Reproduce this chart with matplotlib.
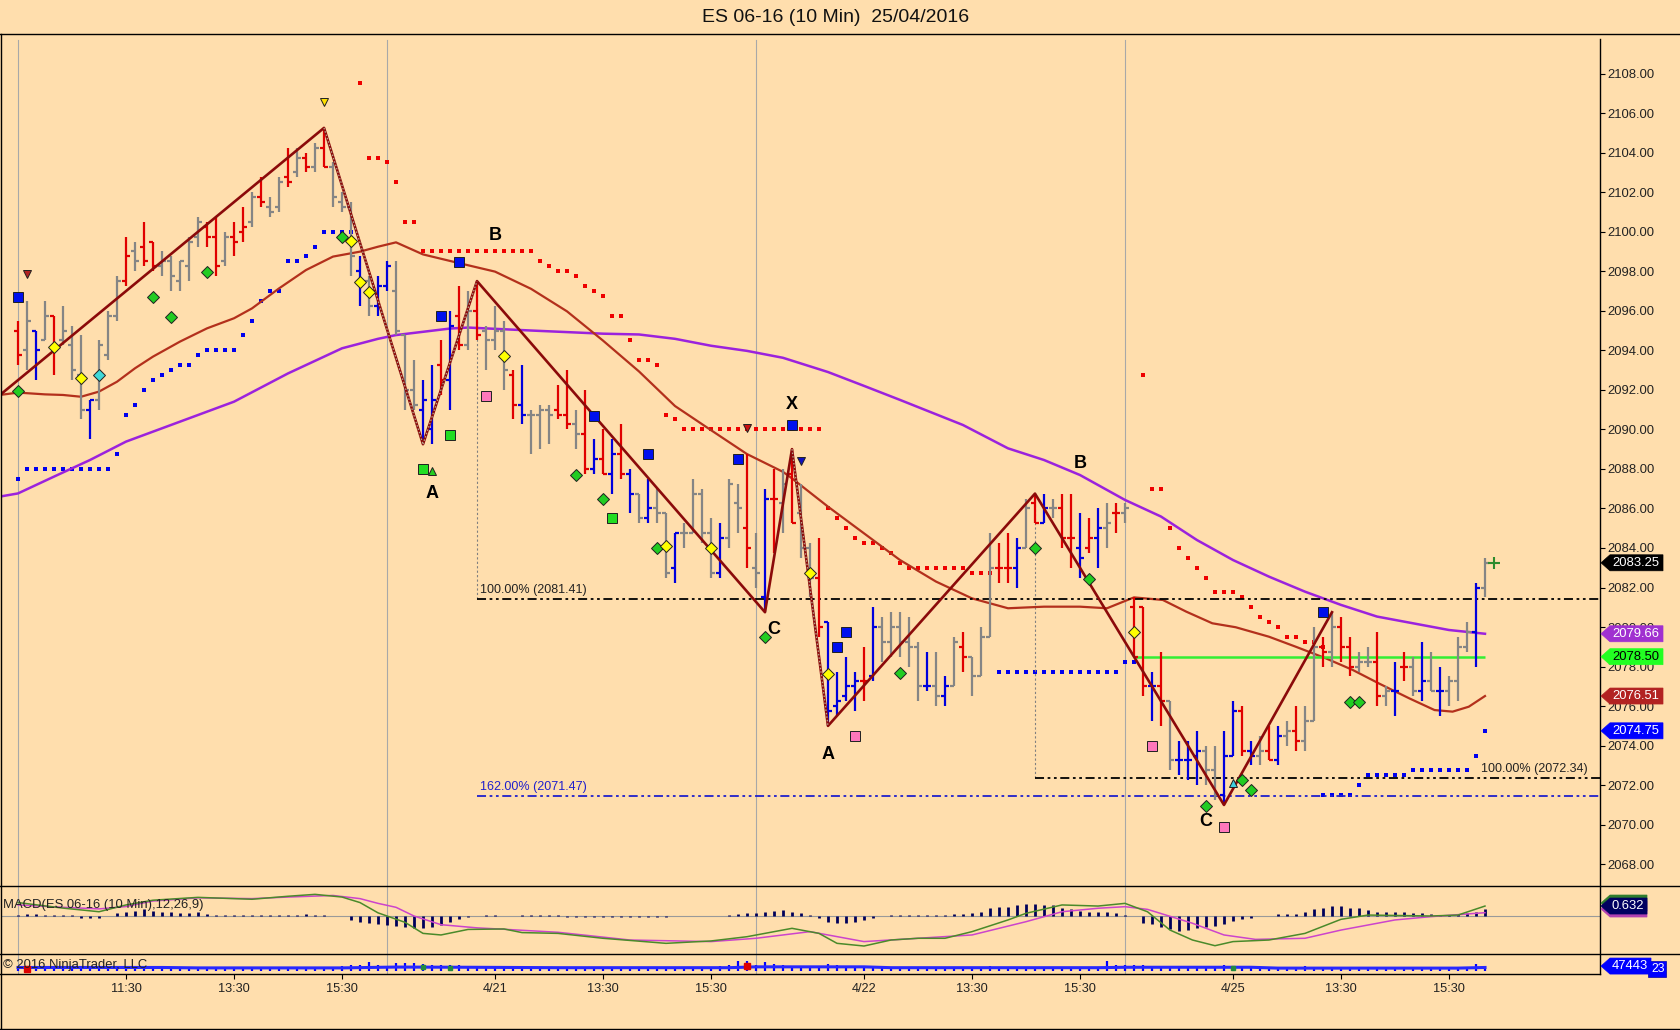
import matplotlib
matplotlib.use('Agg')
import matplotlib.pyplot as plt
from matplotlib.lines import Line2D
from matplotlib.patches import Polygon
import numpy as np

plt.rcParams['font.family'] = ['Liberation Sans', 'DejaVu Sans']

W, H = 1680, 1030
BG = '#FFDEAD'

# ---- price bars (10 min, 4 sessions of 41 bars) ----
opens = [2095.0, 2094.0, 2095.0, 2094.5, 2095.75, 2094.5, 2094.25, 2092.75, 2091.0, 2091.5,
         2093.75, 2095.75, 2097.5, 2099.0, 2099.25, 2099.5, 2098.25, 2098.5, 2097.5, 2098.25,
         2099.75, 2100.25, 2099.75, 2098.5, 2099.75, 2100.0, 2100.5, 2101.75, 2101.25, 2101.25,
         2102.75, 2103.0, 2103.75, 2103.25, 2104.25, 2103.25, 2101.5, 2101.25, 2098.0, 2097.5,
         2096.25, 2097.25, 2097.0, 2094.75, 2092.0, 2091.0, 2090.0, 2093.25, 2092.5, 2095.75,
         2094.25, 2096.0, 2095.0, 2094.5, 2095.0, 2092.75, 2091.25, 2090.75, 2090.75, 2091.0,
         2091.0, 2090.75, 2090.25, 2089.75, 2088.0, 2088.5, 2087.75, 2088.75, 2087.75, 2086.75,
         2085.5, 2086.0, 2085.75, 2083.0, 2084.75, 2084.75, 2086.75, 2084.75, 2082.75, 2084.5,
         2086.25, 2085.0, 2083.0, 2081.5, 2086.5, 2086.25, 2087.75, 2085.75, 2084.0, 2082.5,
         2080.25, 2076.0, 2076.5, 2077.0, 2077.25, 2077.5, 2080.0, 2079.25, 2080.0, 2079.25,
         2079.0, 2077.0, 2077.0, 2076.5, 2077.0, 2079.0, 2078.5, 2077.5, 2079.5, 2083.0,
         2083.0, 2083.0, 2084.0, 2086.25, 2085.25, 2086.0, 2086.0, 2084.5, 2084.0, 2084.0,
         2084.5, 2085.0, 2085.75, 2085.75, 2081.0, 2081.0, 2077.0, 2077.0, 2076.25, 2073.25,
         2073.25, 2073.5, 2073.75, 2072.75, 2071.5, 2073.5, 2075.75, 2073.75, 2073.5, 2073.75,
         2073.25, 2074.5, 2074.75, 2074.25, 2075.25, 2079.0, 2078.75, 2080.0, 2079.0, 2078.0,
         2078.25, 2078.25, 2076.5, 2076.75, 2078.0, 2078.0, 2076.75, 2077.25, 2076.75, 2076.75,
         2077.25, 2079.0, 2079.75, 2082.0]
highs = [2095.5, 2096.5, 2095.0, 2096.5, 2095.75, 2096.25, 2095.25, 2094.75, 2091.5, 2094.5,
         2096.0, 2097.75, 2099.75, 2099.5, 2100.5, 2099.5, 2099.0, 2098.75, 2098.5, 2099.75,
         2100.75, 2100.5, 2100.75, 2100.0, 2100.5, 2101.25, 2102.0, 2102.75, 2101.75, 2102.75,
         2104.25, 2104.25, 2104.0, 2104.5, 2105.25, 2103.5, 2102.0, 2101.5, 2098.75, 2097.75,
         2097.75, 2098.5, 2098.5, 2094.75, 2093.5, 2092.5, 2093.25, 2094.5, 2096.0, 2097.25,
         2097.0, 2097.5, 2095.25, 2096.25, 2095.5, 2093.0, 2093.25, 2091.0, 2091.25, 2091.25,
         2092.25, 2093.0, 2091.0, 2092.0, 2089.5, 2090.0, 2089.5, 2090.25, 2088.0, 2086.75,
         2087.5, 2087.0, 2085.75, 2084.75, 2085.25, 2087.5, 2087.0, 2085.5, 2085.25, 2087.5,
         2087.25, 2088.75, 2084.75, 2087.0, 2088.0, 2088.0, 2089.0, 2087.25, 2084.25, 2084.5,
         2080.25, 2077.75, 2078.5, 2077.75, 2079.0, 2081.0, 2080.5, 2080.75, 2080.75, 2080.5,
         2079.25, 2078.75, 2078.75, 2077.5, 2079.5, 2079.75, 2078.5, 2080.0, 2084.75, 2084.25,
         2084.75, 2084.5, 2086.5, 2086.75, 2086.75, 2086.5, 2086.75, 2086.75, 2085.75, 2085.5,
         2086.0, 2086.25, 2086.25, 2086.25, 2081.5, 2081.0, 2077.75, 2078.75, 2076.25, 2074.25,
         2074.25, 2074.75, 2074.0, 2074.0, 2074.75, 2076.25, 2076.0, 2074.25, 2074.5, 2075.0,
         2075.0, 2075.25, 2076.0, 2076.0, 2080.0, 2079.5, 2080.75, 2080.5, 2079.5, 2078.75,
         2079.0, 2079.75, 2077.0, 2078.25, 2078.75, 2078.5, 2079.25, 2078.75, 2078.0, 2077.5,
         2079.5, 2080.25, 2082.25, 2083.5]
lows = [2093.25, 2093.0, 2092.5, 2094.5, 2092.75, 2094.25, 2092.5, 2090.5, 2089.5, 2091.0,
        2093.5, 2095.5, 2097.25, 2098.0, 2098.25, 2098.0, 2097.75, 2097.0, 2097.0, 2097.5,
        2099.25, 2099.25, 2097.75, 2098.25, 2098.75, 2099.5, 2100.25, 2101.25, 2100.75, 2101.0,
        2102.25, 2102.75, 2103.0, 2103.0, 2103.25, 2101.25, 2101.0, 2097.75, 2096.25, 2095.75,
        2095.75, 2097.0, 2094.75, 2091.0, 2091.0, 2089.25, 2089.25, 2091.75, 2091.0, 2094.0,
        2094.0, 2094.5, 2093.0, 2094.0, 2092.0, 2090.5, 2090.25, 2088.75, 2089.0, 2089.25,
        2090.5, 2090.0, 2089.0, 2087.75, 2087.75, 2087.75, 2086.75, 2087.5, 2085.75, 2085.25,
        2085.25, 2085.25, 2082.5, 2082.25, 2084.0, 2084.75, 2084.25, 2082.5, 2082.5, 2084.0,
        2084.75, 2083.0, 2082.0, 2080.75, 2083.75, 2084.75, 2085.25, 2083.5, 2081.5, 2079.5,
        2075.0, 2075.5, 2076.25, 2075.75, 2076.25, 2077.25, 2078.25, 2078.5, 2078.5, 2078.0,
        2076.25, 2076.75, 2076.0, 2076.0, 2077.0, 2077.75, 2076.5, 2077.5, 2079.5, 2082.25,
        2082.25, 2082.0, 2084.0, 2085.25, 2085.25, 2085.5, 2084.0, 2083.0, 2082.5, 2083.75,
        2083.0, 2084.0, 2084.75, 2085.25, 2078.5, 2076.5, 2075.25, 2075.0, 2072.75, 2072.5,
        2072.25, 2072.0, 2072.0, 2071.25, 2071.0, 2073.5, 2073.5, 2073.0, 2073.0, 2073.25,
        2073.0, 2074.0, 2073.75, 2073.75, 2075.25, 2078.0, 2078.0, 2078.25, 2077.5, 2077.75,
        2078.0, 2076.0, 2076.0, 2075.5, 2077.25, 2076.5, 2076.25, 2076.75, 2075.5, 2076.0,
        2076.25, 2078.75, 2078.0, 2081.5]
closes = [2093.75, 2095.5, 2094.0, 2095.75, 2094.0, 2095.0, 2093.0, 2091.0, 2091.5, 2094.25,
          2095.75, 2097.5, 2098.75, 2098.5, 2098.5, 2098.25, 2098.5, 2097.75, 2098.5, 2099.5,
          2100.5, 2099.75, 2098.25, 2099.75, 2099.5, 2100.25, 2101.75, 2101.5, 2101.0, 2102.5,
          2102.5, 2103.75, 2103.25, 2104.25, 2103.25, 2101.75, 2101.25, 2098.75, 2097.5, 2096.25,
          2097.25, 2098.25, 2095.0, 2092.0, 2091.25, 2091.5, 2091.5, 2092.5, 2095.25, 2094.25,
          2096.0, 2094.75, 2094.5, 2095.0, 2093.0, 2091.25, 2090.75, 2090.75, 2091.0, 2090.75,
          2090.75, 2090.25, 2089.75, 2088.0, 2088.5, 2087.75, 2088.75, 2087.75, 2086.75, 2085.5,
          2086.0, 2085.75, 2082.75, 2084.75, 2084.75, 2086.75, 2084.75, 2082.75, 2084.5, 2087.25,
          2086.0, 2084.0, 2082.75, 2086.5, 2086.5, 2087.25, 2085.25, 2084.0, 2082.5, 2080.0,
          2075.75, 2076.25, 2077.0, 2077.25, 2077.25, 2080.0, 2079.25, 2080.0, 2079.25, 2079.0,
          2077.0, 2077.0, 2076.5, 2077.0, 2079.25, 2078.5, 2077.5, 2079.5, 2083.0, 2083.0,
          2083.0, 2084.0, 2086.0, 2085.25, 2086.0, 2086.0, 2084.5, 2084.5, 2083.5, 2084.5,
          2085.0, 2085.25, 2085.75, 2086.0, 2078.5, 2077.0, 2077.0, 2076.25, 2073.25, 2073.25,
          2073.25, 2073.75, 2072.75, 2071.5, 2073.5, 2075.75, 2073.75, 2073.5, 2073.75, 2073.25,
          2074.5, 2074.75, 2074.25, 2075.25, 2079.0, 2078.75, 2080.0, 2079.0, 2078.0, 2078.25,
          2078.25, 2076.5, 2076.75, 2076.75, 2078.0, 2076.75, 2077.25, 2076.75, 2076.75, 2077.25,
          2079.0, 2079.75, 2082.0, 2083.25]
# r = red bar, b = blue bar, g = gray bar
bar_kind = ("rgbgrgggbg" "ggrgrrgggg" "grrgrrgrgg" "rgrgrgggbg" "bbgggbbrbr"
            "grgggrbggg" "rrgrbrbrbg" "bggbggggbg" "grgbrgrggr" "bbbbrbgggg"
            "gbgbgrgggr" "rbgrbgrrbr" "bgrgrrbrgb" "bbggbbrbgr" "bgrggrgrrg"
            "grgbrgbgbg" "ggbg")

session_starts = [0, 41, 82, 123]
time_tick_bars = [12, 24, 36, 53, 65, 77, 94, 106, 118, 135, 147, 159]
time_tick_labels = ['11:30', '13:30', '15:30', '4/21', '13:30', '15:30',
                    '4/22', '13:30', '15:30', '4/25', '13:30', '15:30']

# ---- moving averages (read at sample bars) ----
ema_x = [-2, 0, 3, 5, 7, 9, 11, 13, 15, 18, 21, 24, 26, 29, 32, 35, 38, 40, 42, 45,
         49, 53, 57, 61, 65, 69, 73, 77, 81, 85, 86, 90, 94, 98, 102, 106, 110, 114, 118, 121,
         124, 127.2, 129.8, 132.7, 135.3, 139, 142, 145.3, 148.3, 151.2, 154.6, 157.4, 159.4, 161.2, 163]
ema_y = [2091.74, 2091.86, 2091.77, 2091.74, 2091.65, 2091.91, 2092.41, 2093.09, 2093.68, 2094.44,
         2095.11, 2095.62, 2096.12, 2097.13, 2098.06, 2098.74, 2098.99, 2099.24, 2099.46, 2098.85,
         2098.41, 2097.98, 2097.11, 2095.97, 2094.49, 2092.93, 2091.18, 2089.96, 2088.75, 2087.85,
         2087.52, 2086.09, 2084.74, 2083.39, 2082.30, 2081.45, 2080.95, 2081.03, 2081.03, 2080.95,
         2081.5, 2081.37, 2080.78, 2080.19, 2079.99, 2079.51, 2079.0, 2078.42, 2077.83, 2077.15,
         2076.39, 2075.8, 2075.72, 2075.97, 2076.51]
slow_x = [-2, 0, 4, 8, 12, 18, 24, 30, 36, 40, 42, 48, 50, 57, 65, 69, 73, 77, 81, 85,
          90, 94, 98, 105, 110, 114, 118, 123, 127, 131, 135, 139, 143, 147, 151, 155, 159, 163]
slow_y = [2086.6, 2086.76, 2087.61, 2088.45, 2089.38, 2090.39, 2091.40, 2092.83, 2094.10, 2094.58,
          2094.77, 2095.1, 2095.15, 2095.0, 2094.84, 2094.8, 2094.58, 2094.23, 2093.97, 2093.62,
          2092.9, 2092.2, 2091.49, 2090.22, 2089.04, 2088.45, 2087.69, 2086.43, 2085.59, 2084.4,
          2083.39, 2082.55, 2081.79, 2081.12, 2080.53, 2080.19, 2079.85, 2079.66]

# ---- trailing stop dots ----
red_dot_x = [38, 39, 40, 41, 42, 43, 44, 45, 46, 47, 48, 49, 50, 51, 52, 53, 54, 55, 56, 57,
             58, 59, 60, 61, 62, 63, 64, 65, 66, 67, 68, 69, 70, 71, 72, 73,
             74, 75, 76, 77, 78, 79, 80, 81, 82, 83, 84, 85, 86, 87, 88, 89,
             90, 91, 92, 93, 94, 95, 96, 97, 98, 99, 100, 101, 102, 103, 104, 105, 106, 107, 108,
             125, 126, 127, 128, 129, 130, 131, 132, 133, 134, 135, 136, 137, 138, 139, 140,
             141, 142, 143, 144, 145]
red_dot_y = [2107.5, 2103.75, 2103.75, 2103.5, 2102.5, 2100.5, 2100.5,
             2099.0, 2099.0, 2099.0, 2099.0, 2099.0, 2099.0, 2099.0, 2099.0, 2099.0, 2099.0,
             2099.0, 2099.0, 2099.0,
             2098.5, 2098.25, 2098.0, 2098.0, 2097.75, 2097.25, 2097.0, 2096.75, 2095.75, 2095.75,
             2094.5, 2093.5, 2093.5, 2093.25, 2090.75, 2090.5,
             2090.0, 2090.0, 2090.0, 2090.0, 2090.0, 2090.0, 2090.0, 2090.0, 2090.0, 2090.0,
             2090.0, 2090.0, 2090.0, 2090.0, 2090.0, 2090.0,
             2086.0, 2085.5, 2085.0, 2084.5, 2084.25, 2084.25, 2084.0, 2083.75, 2083.25,
             2083.0, 2083.0, 2083.0, 2083.0, 2083.0, 2083.0, 2083.0, 2082.75, 2082.75, 2082.75,
             2092.75, 2087.0, 2087.0, 2085.0, 2084.0, 2083.5, 2083.0, 2082.5, 2081.75, 2081.75,
             2081.75, 2081.5, 2081.0, 2080.5, 2080.25, 2080.0, 2079.5, 2079.5, 2079.25, 2079.25,
             2079.0]
blue_dot_x = [0, 1, 2, 3, 4, 5, 6, 7, 8, 9, 10, 11, 12, 13, 14, 15, 16, 17, 18, 19,
              20, 21, 22, 23, 24, 25, 26, 27, 28, 29, 30, 31, 32, 33, 34, 35, 36, 37,
              109, 110, 111, 112, 113, 114, 115, 116, 117, 118, 119, 120, 121, 122, 123, 124,
              145, 146, 147, 148, 149, 150, 151, 152, 153, 154, 155, 156, 157, 158, 159, 160,
              161, 162, 163]
blue_dot_y = [2087.5, 2088.0, 2088.0, 2088.0, 2088.0, 2088.0, 2088.0, 2088.0, 2088.0, 2088.0,
              2088.0, 2088.75, 2090.75, 2091.25, 2092.0, 2092.5, 2092.75, 2093.0, 2093.25, 2093.25,
              2093.75, 2094.0, 2094.0, 2094.0, 2094.0, 2094.75, 2095.5, 2096.5, 2097.0, 2097.0,
              2098.5, 2098.5, 2098.75, 2099.25, 2100.0, 2100.0, 2100.0, 2100.0,
              2077.75, 2077.75, 2077.75, 2077.75, 2077.75, 2077.75, 2077.75, 2077.75, 2077.75,
              2077.75, 2077.75, 2077.75, 2077.75, 2077.75, 2078.25, 2078.25,
              2071.5, 2071.5, 2071.5, 2071.5, 2072.0, 2072.5, 2072.5, 2072.5, 2072.5, 2072.5,
              2072.75, 2072.75, 2072.75, 2072.75, 2072.75, 2072.75, 2072.75, 2073.5, 2074.75]

# ---- signal markers ----
blue_sq_x = [0, 47, 49, 64, 70, 80, 86, 91, 92, 145]
blue_sq_y = [2096.7, 2095.71, 2098.45, 2090.7, 2088.75, 2088.5, 2090.22, 2078.97, 2079.73, 2080.74]
green_sq_x = [45, 48, 66]
green_sq_y = [2088.0, 2089.7, 2085.5]
pink_sq_x = [52, 93, 126, 134]
pink_sq_y = [2091.7, 2074.49, 2073.97, 2069.87]
green_dia_x = [0, 15, 17, 21, 36, 62, 65, 71, 83, 98, 113, 119, 132, 136, 137, 148, 149]
green_dia_y = [2091.96, 2096.68, 2095.70, 2097.94, 2099.71, 2087.7, 2086.5, 2084.0, 2079.5,
               2077.69, 2083.98, 2082.45, 2070.97, 2072.26, 2071.76, 2076.23, 2076.23]
yellow_dia_x = [4, 7, 37, 38, 39, 54, 72, 77, 88, 90, 124]
yellow_dia_y = [2094.18, 2092.58, 2099.55, 2097.44, 2096.93, 2093.7, 2084.1, 2084.0,
                2082.72, 2077.61, 2079.75]
cyan_dia_x = [9]
cyan_dia_y = [2092.73]
tri_down = [(1, 2097.84, '#B22222'), (81, 2090.09, '#CC1010'), (34, 2106.57, '#FFE000'),
            (87, 2088.4, '#1010C0')]
tri_up = [(46, 2087.87, '#22CC22'), (135, 2072.1, '#40D0E0')]

# ---- pattern (zigzag) and labels ----
zig_x = [-2, 34, 45, 51, 83, 86, 90, 113, 134, 146]
zig_y = [2091.74, 2105.25, 2089.25, 2097.5, 2080.75, 2089.0, 2075.0, 2086.75, 2071.0, 2080.75]
hatched_legs = [1, 2, 5]
pattern_labels = [('A', 46, 2086.75), ('B', 53, 2099.8), ('C', 84, 2079.86), ('X', 86, 2091.28),
                  ('A', 90, 2073.53), ('B', 118, 2088.28), ('C', 132, 2070.16)]
fib1_level, fib1_ext = 2081.41, 2071.47
fib2_level = 2072.34
green_level = 2078.50

# ---- MACD (12,26,9) ----
macd_x = [0, 5, 9, 12, 15, 20, 26, 30, 33, 36, 38, 40, 43, 45, 47, 50, 54, 56, 60, 65,
          72, 77, 81, 86, 89, 91, 94, 97, 100, 103, 106, 110, 112, 116, 120, 123, 125.5, 128,
          130.5, 133, 135, 139, 143, 147, 150, 157, 160, 163]
macd_y = [0.85, 0.5, 0.27, 0.7, 1.0, 1.18, 1.06, 1.25, 1.37, 1.2, 0.85, 0.2, -0.4, -1.1,
          -1.2, -0.85, -0.82, -1.05, -1.1, -1.41, -1.73, -1.58, -1.31, -0.78, -1.1, -1.73, -1.9,
          -1.52, -1.41, -1.41, -0.99, -0.25, 0.17, 0.7, 0.63, 0.8, 0.27, -0.89, -1.52, -1.88,
          -1.62, -1.52, -1.1, -0.21, 0.06, 0.0, 0.06, 0.63]
sig_x = [0, 5, 9, 12, 15, 20, 26, 30, 35, 38, 40, 42, 44, 47, 51, 54, 60, 68, 77, 82,
         88, 94, 100, 106, 112, 116, 120, 123, 125.5, 130.5, 134, 137.5, 143, 147, 153, 157, 163]
sig_y = [0.7, 0.55, 0.45, 0.6, 0.95, 1.15, 1.1, 1.2, 1.3, 1.1, 0.8, 0.55, 0.0, -0.55, -0.75,
         -0.84, -1.03, -1.52, -1.62, -1.41, -0.99, -1.62, -1.41, -1.2, -0.36, 0.27, 0.49, 0.59,
         0.42, -0.46, -1.2, -1.48, -1.41, -0.89, -0.25, -0.04, 0.21]
macd_hist = [0.08, 0.1, 0.1, 0.08, 0.06, 0.05, 0.04, -0.12, -0.15, -0.12,
             0.03, 0.17, 0.27, 0.34, 0.42, 0.34, 0.27, 0.23, 0.17, 0.21,
             0.27, 0.1, 0.08, 0.08, 0.06, 0.06, 0.05, 0.08, 0.08, 0.06,
             0.08, 0.08, 0.1, 0.08, 0.06, 0.03, -0.03, -0.25, -0.36, -0.46,
             -0.53, -0.57, -0.63, -0.72, -0.78, -0.78, -0.67, -0.57, -0.36, -0.21,
             -0.08, 0.0, 0.05, 0.06, 0.03, 0.0, 0.06, 0.04, 0.05, 0.06,
             0.05, -0.05, -0.06, -0.05, -0.06, -0.05, -0.06, -0.05, -0.06, -0.06,
             -0.08, -0.06, -0.05, -0.03, 0.0, 0.0, -0.03, 0.03, 0.0, 0.08,
             0.12, 0.17, 0.17, 0.27, 0.34, 0.38, 0.27, 0.17, 0.05, -0.1,
             -0.36, -0.46, -0.42, -0.36, -0.25, -0.15, 0.03, 0.05, 0.05, 0.06,
             0.05, 0.06, 0.08, 0.08, 0.1, 0.12, 0.17, 0.27, 0.49, 0.59,
             0.59, 0.7, 0.76, 0.76, 0.7, 0.7, 0.53, 0.42, 0.34, 0.27,
             0.23, 0.23, 0.17, 0.06, 0.03, -0.42, -0.53, -0.67, -0.84, -0.93,
             -0.89, -0.78, -0.72, -0.63, -0.51, -0.3, -0.21, -0.15, -0.03, 0.0,
             0.1, 0.1, 0.1, 0.23, 0.42, 0.49, 0.63, 0.63, 0.53, 0.49,
             0.38, 0.27, 0.27, 0.23, 0.23, 0.17, 0.17, 0.1, 0.06, 0.06,
             0.1, 0.17, 0.27, 0.42]

# ---- volume ----
volume = [42000, 45000, 40000, 38000, 40000, 38000, 36000, 40000, 42000, 38000,
          40000, 42000, 44000, 40000, 42000, 38000, 36000, 38000, 36000, 38000,
          36000, 38000, 36000, 35000, 36000, 35000, 38000, 36000, 35000, 36000,
          38000, 36000, 35000, 38000, 40000, 42000, 45000, 55000, 62000, 90000,
          60000, 50000, 80000, 75000, 75000, 70000, 62000, 55000, 62000, 55000,
          50000, 45000, 42000, 40000, 40000, 38000, 40000, 38000, 36000, 38000,
          36000, 38000, 36000, 40000, 38000, 36000, 38000, 36000, 40000, 38000,
          36000, 38000, 42000, 40000, 36000, 38000, 36000, 40000, 45000, 60000,
          95000, 100000, 55000, 90000, 65000, 55000, 50000, 48000, 50000, 52000,
          65000, 55000, 52000, 50000, 48000, 50000, 42000, 40000, 38000, 36000,
          38000, 36000, 35000, 36000, 38000, 36000, 35000, 38000, 45000, 40000,
          38000, 36000, 38000, 36000, 35000, 36000, 38000, 36000, 38000, 40000,
          42000, 95000, 55000, 55000, 60000, 55000, 52000, 50000, 52000, 50000,
          50000, 48000, 50000, 52000, 55000, 52000, 45000, 42000, 40000, 38000,
          36000, 38000, 40000, 45000, 42000, 38000, 36000, 35000, 36000, 35000,
          34000, 35000, 34000, 35000, 36000, 34000, 35000, 34000, 35000, 36000,
          38000, 40000, 70000, 47443]
vol_ma_x = [0, 16, 20, 36, 42, 50, 60, 79, 82, 94, 97, 120, 123, 137, 140, 160, 163]
vol_ma_y = [34000, 34000, 30000, 30000, 38000, 36000, 32000, 32000, 40000, 40000,
            32000, 32000, 36000, 36000, 28000, 28000, 34000]

# ---------------------------------------------------------------
fig = plt.figure(figsize=(W / 100, H / 100), dpi=100, facecolor=BG)


def fx(px):
    return px / W


def fy(py):
    return 1 - py / H


left, right = 1, 1600
ax = fig.add_axes([fx(left), fy(886), fx(right) - fx(left), fy(34) - fy(886)])
ax_macd = fig.add_axes([fx(left), fy(954), fx(right) - fx(left), fy(886) - fy(954)], sharex=ax)
ax_vol = fig.add_axes([fx(left), fy(974), fx(right) - fx(left), fy(954) - fy(974)], sharex=ax)

for a in (ax, ax_macd, ax_vol):
    a.set_facecolor(BG)
    for s in a.spines.values():
        s.set_visible(False)
    top = 0.993 if a is ax else 1.0
    for b in session_starts:
        a.axvline(b, ymax=top, color='#A8A8A8', lw=0.8, zorder=0.5)

ax.set_xlim(-1.89, 175.78)
ax.set_ylim(2066.9, 2110.0)
ax_macd.set_ylim(-2.405, 1.899)
ax_vol.set_ylim(-28000, 162000)

# price axis on the right
ax.yaxis.tick_right()
ticks = np.arange(2068, 2109, 2)
ax.set_yticks(ticks)
ax.set_yticklabels(['%.2f' % t for t in ticks])
ax.tick_params(axis='y', direction='out', length=3.6, width=0.8, pad=1.5,
               labelsize=9.4, labelcolor='#222222')
ax.tick_params(axis='x', bottom=False, labelbottom=False)
ax_macd.tick_params(axis='both', left=False, labelleft=False, bottom=False, labelbottom=False)
ax_vol.tick_params(axis='y', left=False, labelleft=False)
ax_vol.set_xticks(time_tick_bars)
ax_vol.set_xticklabels(time_tick_labels)
ax_vol.tick_params(axis='x', direction='out', length=3.6, width=0.8, pad=3,
                   labelsize=9.2, labelcolor='#222222')

# moving averages and stop dots
ax.plot(slow_x, slow_y, color='#9B22DD', lw=1.8, zorder=2.5)
ax.plot(ema_x, ema_y, color='#B3301C', lw=1.6, zorder=2.5)
ax.plot(red_dot_x, red_dot_y, 's', color='#EE0000', ms=3.0, mew=0, ls='none', zorder=2)
ax.plot(blue_dot_x, blue_dot_y, 's', color='#0000EE', ms=3.0, mew=0, ls='none', zorder=2)

# OHLC bars
bar_colors = {'r': '#E00000', 'b': '#0000DD', 'g': '#858585'}
x = np.arange(len(closes))
cols = [bar_colors[k] for k in bar_kind]
ax.vlines(x, lows, highs, colors=cols, lw=1.6, zorder=3)
ax.hlines(opens, x - 0.4, x, colors=cols, lw=1.6, zorder=3)
ax.hlines(closes, x, x + 0.4, colors=cols, lw=1.6, zorder=3)
ax.plot([len(closes)], [closes[-1]], '+', color='#2E8B2E', ms=8, mew=1.5, zorder=3)

# fib levels
ls_dd = (0, (5, 2, 1.5, 2, 1.5, 2))
ax.hlines(fib1_level, zig_x[3], 176, color='black', lw=1.3, linestyles=[ls_dd], zorder=2.8)
ax.hlines(fib1_ext, zig_x[3], 176, color='#2020CC', lw=1.3, linestyles=[ls_dd], zorder=2.8)
ax.hlines(fib2_level, zig_x[7], 176, color='black', lw=1.3, linestyles=[ls_dd], zorder=2.8)
ax.vlines(zig_x[3], fib1_level, zig_y[3], color='#808080', lw=0.8, linestyles=[(0, (2, 2))])
ax.vlines(zig_x[7], fib2_level, zig_y[7], color='#808080', lw=0.8, linestyles=[(0, (2, 2))])
ax.text(51.3, fib1_level + 0.15, '100.00% (2081.41)', fontsize=9, color='#222222', va='bottom')
ax.text(51.3, fib1_ext + 0.15, '162.00% (2071.47)', fontsize=9, color='#2020CC', va='bottom')
ax.text(174.4, fib2_level + 0.15, '100.00% (2072.34)', fontsize=9, color='#222222',
        va='bottom', ha='right')
ax.hlines(green_level, 124, 163, color='#33EE33', lw=1.8, zorder=2.9)

# zigzag
ax.plot(zig_x, zig_y, color='#8B0A0A', lw=1.9, zorder=3.5)
for i in hatched_legs:
    ax.plot(zig_x[i:i + 2], zig_y[i:i + 2], color='#B8A890', lw=0.9, ls=(0, (1.2, 1.6)), zorder=3.6)
for t, bx, by in pattern_labels:
    ax.text(bx, by, t, fontsize=13, fontweight='bold', ha='center', va='center', color='black', zorder=6)

# markers
mk = dict(ls='none', zorder=4, mec='#202020', mew=0.7)
ax.plot(blue_sq_x, blue_sq_y, 's', color='#0010EE', ms=7.5, **mk)
ax.plot(green_sq_x, green_sq_y, 's', color='#22DD22', ms=7.5, **mk)
ax.plot(pink_sq_x, pink_sq_y, 's', color='#FF77BB', ms=7.5, **mk)
ax.plot(green_dia_x, green_dia_y, 'D', color='#22CC22', ms=5.8, **mk)
ax.plot(yellow_dia_x, yellow_dia_y, 'D', color='#FFFF00', ms=5.8, **mk)
ax.plot(cyan_dia_x, cyan_dia_y, 'D', color='#40D8D8', ms=5.8, **mk)
for tx, ty, c in tri_down:
    ax.plot([tx], [ty], 'v', color=c, ms=6, **mk)
for tx, ty, c in tri_up:
    ax.plot([tx], [ty], '^', color=c, ms=5.5, **mk)

# MACD panel
ax_macd.axhline(0, color='#9A9A9A', lw=0.8, zorder=1)
ax_macd.vlines(x, 0, macd_hist, color='#00005A', lw=2.0, zorder=2)
ax_macd.plot(sig_x, sig_y, color='#CC44CC', lw=1.1, zorder=3)
ax_macd.plot(macd_x, macd_y, color='#4A8A2A', lw=1.1, zorder=3)

# volume panel
ax_vol.vlines(x, 0, volume, color='#0000FF', lw=1.6, zorder=2)
ax_vol.plot(vol_ma_x, vol_ma_y, color='#2828FF', lw=2.2, zorder=3)
ax_vol.plot([1, 81], [volume[1] / 2, volume[81] / 2], 's', color='#DD0000', ms=4, ls='none', zorder=4)
ax_vol.plot([45, 48, 135], [volume[45] / 2, volume[48] / 2, volume[135] / 2], 's',
            color='#208A40', ms=3.5, ls='none', zorder=4)

# panel borders
border = [((0, 34), (1680, 34)), ((0, 886), (1680, 886)), ((0, 954), (1680, 954)),
          ((0, 974), (1600, 974)), ((1600, 39), (1600, 974)), ((1, 34), (1, 1029)),
          ((0, 1029), (1680, 1029))]
for (x0, y0), (x1, y1) in border:
    fig.add_artist(Line2D([fx(x0), fx(x1)], [fy(y0), fy(y1)], color='black', lw=1.0,
                          transform=fig.transFigure))


def price_tag(axis, value, text, face, txt, x_tip=1601, x_end=1663, half=8, dy=0):
    yc = axis.transData.transform((0, value))[1] + dy
    pts = [(x_tip, yc), (x_tip + 9, yc + half), (x_end, yc + half),
           (x_end, yc - half), (x_tip + 9, yc - half)]
    fig.add_artist(Polygon([(px / W, py / H) for px, py in pts], closed=True,
                           transform=fig.transFigure, facecolor=face, edgecolor=face,
                           lw=0.5, zorder=5))
    fig.text((x_tip + 11) / W, yc / H, text, color=txt, fontsize=9.4,
             ha='left', va='center', zorder=6)


price_tag(ax, 2083.25, '2083.25', '#000000', 'white')
price_tag(ax, 2079.66, '2079.66', '#A030D0', 'white')
price_tag(ax, 2078.50, '2078.50', '#22FF22', 'black')
price_tag(ax, 2076.51, '2076.51', '#B22222', 'white')
price_tag(ax, 2074.75, '2074.75', '#0000FF', 'white')

# MACD tags (macd / signal behind, value on top)
price_tag(ax_macd, 0.632, '', '#2E7D2E', 'white', x_end=1647, dy=3)
price_tag(ax_macd, 0.632, '', '#B040B0', 'white', x_end=1647, dy=-3)
price_tag(ax_macd, 0.632, '0.632', '#000060', 'white', x_end=1647)

# volume tags
fig.add_artist(Polygon([(fx(1648), fy(961)), (fx(1666), fy(961)), (fx(1666), fy(977)),
                        (fx(1648), fy(977))], closed=True, transform=fig.transFigure,
                       facecolor='#0000FF', edgecolor='#0000AA', lw=0.5, zorder=5))
fig.text(fx(1651), fy(969), '23', color='white', fontsize=8.8, ha='left', va='center', zorder=6)
price_tag(ax_vol, volume[-1], '47443', '#0000FF', 'white', x_end=1651)

# texts
fig.text(fx(836), fy(18), 'ES 06-16 (10 Min)  25/04/2016', ha='center', va='center',
         fontsize=14, color='#111111')
fig.text(fx(3), fy(905), 'MACD(ES 06-16 (10 Min),12,26,9)', ha='left', va='center',
         fontsize=9.4, color='#222222', zorder=0.8)
fig.text(fx(3), fy(965), '\u00a9 2016 NinjaTrader, LLC', ha='left', va='center',
         fontsize=9.4, color='#222222', zorder=0.8)

fig.savefig('out.png', dpi=100, facecolor=BG)
